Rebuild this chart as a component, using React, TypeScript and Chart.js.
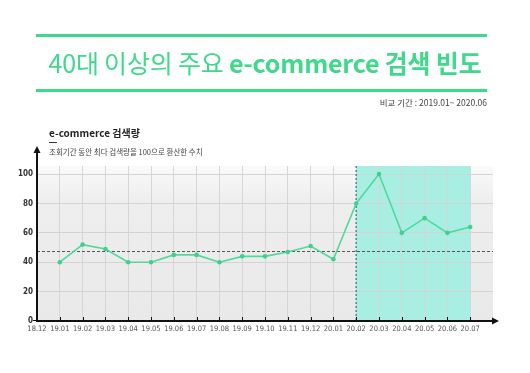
import React, { useEffect, useRef } from "react";
import { Chart, registerables } from "chart.js";

Chart.register(...registerables);

const CATEGORIES = ["18.12", "19.01", "19.02", "19.03", "19.04", "19.05", "19.06", "19.07", "19.08", "19.09", "19.10", "19.11", "19.12", "20.01", "20.02", "20.03", "20.04", "20.05", "20.06", "20.07", ""];
const SEARCH_VALUES = [null, 40, 52, 49, 40, 40, 45, 45, 40, 44, 44, 47, 51, 42, 80, 100, 60, 70, 60, 64, null];
const Y_TICKS = [0, 20, 40, 60, 80, 100];
const AVERAGE = 47.5;
const HIGHLIGHT_FROM = "20.02";
const HIGHLIGHT_TO = "20.07";

const GREEN = "#4fd99b";
const TITLE_GREEN = "#3fd98c";
const KR = '"Noto Sans CJK KR", "Noto Sans", sans-serif';
const NARROW = '"Liberation Sans Narrow", "DejaVu Sans Condensed", "Roboto", sans-serif';

const decorPlugin = {
  id: "decor",
  beforeDraw(chart: any) {
    const { ctx, chartArea } = chart;
    const { left, right, top, bottom } = chartArea;
    const x = chart.scales.x;
    ctx.save();
    const g = ctx.createLinearGradient(0, top, 0, bottom);
    g.addColorStop(0, "#fafafa");
    g.addColorStop(0.22, "#eeeeee");
    g.addColorStop(1, "#e9e9e9");
    ctx.fillStyle = g;
    ctx.fillRect(left, top, right - left, bottom - top);
    const x0 = x.getPixelForValue(CATEGORIES.indexOf(HIGHLIGHT_FROM));
    const x1 = x.getPixelForValue(CATEGORIES.indexOf(HIGHLIGHT_TO));
    ctx.fillStyle = "#a9eee3";
    ctx.fillRect(x0, top, x1 - x0, bottom - top);
    ctx.restore();
  },
  beforeDatasetsDraw(chart: any) {
    const { ctx, chartArea } = chart;
    const { left, right, top, bottom } = chartArea;
    const x = chart.scales.x;
    const y = chart.scales.y;
    ctx.save();
    const ya = Math.round(y.getPixelForValue(AVERAGE)) + 0.5;
    ctx.strokeStyle = "#555";
    ctx.lineWidth = 1;
    ctx.setLineDash([3, 2]);
    ctx.beginPath();
    ctx.moveTo(left, ya);
    ctx.lineTo(right, ya);
    ctx.stroke();
    const xv = x.getPixelForValue(CATEGORIES.indexOf(HIGHLIGHT_FROM));
    ctx.strokeStyle = "#3f9288";
    ctx.lineWidth = 1.5;
    ctx.setLineDash([2, 2]);
    ctx.beginPath();
    ctx.moveTo(xv, top);
    ctx.lineTo(xv, bottom);
    ctx.stroke();
    ctx.restore();
  },
  afterDraw(chart: any) {
    const { ctx, chartArea } = chart;
    const { left, right, top, bottom } = chartArea;
    const x = chart.scales.x;
    ctx.save();
    ctx.strokeStyle = "#111";
    ctx.fillStyle = "#111";
    ctx.lineWidth = 2;
    ctx.beginPath();
    ctx.moveTo(left - 1, bottom);
    ctx.lineTo(right + 1, bottom);
    ctx.stroke();
    ctx.beginPath();
    ctx.moveTo(right + 6, bottom);
    ctx.lineTo(right - 1, bottom - 3.5);
    ctx.lineTo(right - 1, bottom + 3.5);
    ctx.closePath();
    ctx.fill();
    ctx.beginPath();
    ctx.moveTo(left, bottom + 1);
    ctx.lineTo(left, top - 14);
    ctx.stroke();
    ctx.beginPath();
    ctx.moveTo(left, top - 20);
    ctx.lineTo(left - 3.5, top - 13);
    ctx.lineTo(left + 3.5, top - 13);
    ctx.closePath();
    ctx.fill();
    ctx.lineWidth = 1;
    for (let i = 1; i < CATEGORIES.length - 1; i++) {
      const px = Math.round(x.getPixelForValue(i)) + 0.5;
      ctx.beginPath();
      ctx.moveTo(px, bottom - 4);
      ctx.lineTo(px, bottom);
      ctx.stroke();
    }
    ctx.beginPath();
    ctx.moveTo(left - 4, bottom - 0.5);
    ctx.lineTo(left, bottom - 0.5);
    ctx.stroke();
    ctx.restore();
  },
};

function ChartView() {
  const ref = useRef<HTMLCanvasElement>(null);
  useEffect(() => {
    if (!ref.current) return;
    const chart = new Chart(ref.current, {
      type: "line",
      data: {
        labels: CATEGORIES,
        datasets: [
          {
            data: SEARCH_VALUES,
            borderColor: GREEN,
            backgroundColor: GREEN,
            borderWidth: 1.6,
            pointRadius: 2.3,
            pointBorderWidth: 0,
            pointBackgroundColor: "#3fcf8e",
            tension: 0,
            spanGaps: false,
          },
        ],
      },
      options: {
        animation: false,
        responsive: false,
        events: [],
        layout: { padding: { left: 0, right: 37, top: 166, bottom: 0 } },
        plugins: { legend: { display: false }, tooltip: { enabled: false }, title: { display: false } },
        scales: {
          x: {
            type: "category",
            offset: false,
            border: { display: false },
            grid: {
              drawTicks: false,
              lineWidth: 1,
              color: (c: any) => (c.index === 0 || c.index === CATEGORIES.length - 1 ? "rgba(0,0,0,0)" : "#d6d6d6"),
            },
            ticks: {
              autoSkip: false,
              maxRotation: 0,
              padding: 4,
              color: "#555",
              font: { family: NARROW, size: 7.5 },
            },
            afterFit: (s: any) => {
              s.height = 52;
            },
          },
          y: {
            min: 0,
            max: 105.5,
            border: { display: false },
            afterBuildTicks: (s: any) => {
              s.ticks = Y_TICKS.map((v) => ({ value: v }));
            },
            grid: {
              drawTicks: false,
              color: (c: any) => (c.tick && c.tick.value === 0 ? "rgba(0,0,0,0)" : "#d3d3d3"),
            },
            ticks: {
              padding: 4,
              color: "#333",
              font: { family: NARROW, size: 8, weight: "bold" },
            },
            afterFit: (s: any) => {
              s.width = 37;
            },
          },
        },
      },
      plugins: [decorPlugin],
    });
    return () => chart.destroy();
  }, []);
  return <canvas ref={ref} width={530} height={373} style={{ position: "absolute", left: 0, top: 0 }} />;
}

export default function App() {
  return (
    <div style={{ position: "fixed", left: 0, top: 0, width: 530, height: 373, background: "#fff", overflow: "hidden" }}>
      <ChartView />
      <div style={{ position: "absolute", left: 36, top: 34, width: 451, height: 3, background: TITLE_GREEN }} />
      <div style={{ position: "absolute", left: 36, top: 89, width: 451, height: 3, background: TITLE_GREEN }} />
      <div
        style={{
          position: "absolute",
          left: 0,
          width: 530,
          top: 44,
          textAlign: "center",
          fontFamily: KR,
          fontSize: 25,
          lineHeight: "36px",
          color: TITLE_GREEN,
          whiteSpace: "nowrap",
          letterSpacing: "-0.2px",
        }}
      >
        <span style={{ fontWeight: 400 }}>40대 이상의 주요 </span>
        <span style={{ fontWeight: 700 }}>e-commerce 검색 빈도</span>
      </div>
      <div
        style={{
          position: "absolute",
          right: 43,
          top: 96,
          fontFamily: KR,
          fontSize: 8.5,
          lineHeight: "12px",
          color: "#444",
          whiteSpace: "nowrap",
        }}
      >
        비교 기간 : 2019.01~ 2020.06
      </div>
      <div
        style={{
          position: "absolute",
          left: 49,
          top: 126,
          fontFamily: KR,
          fontSize: 10,
          fontWeight: 700,
          lineHeight: "14px",
          color: "#222",
          whiteSpace: "nowrap",
        }}
      >
        e-commerce 검색량
      </div>
      <div style={{ position: "absolute", left: 49, top: 142, width: 8, height: 1, background: "#333" }} />
      <div
        style={{
          position: "absolute",
          left: 49,
          top: 146,
          fontFamily: KR,
          fontSize: 7.5,
          lineHeight: "12px",
          color: "#444",
          whiteSpace: "nowrap",
        }}
      >
        조회기간 동안 최다 검색량을 100으로 환산한 수치
      </div>
    </div>
  );
}
